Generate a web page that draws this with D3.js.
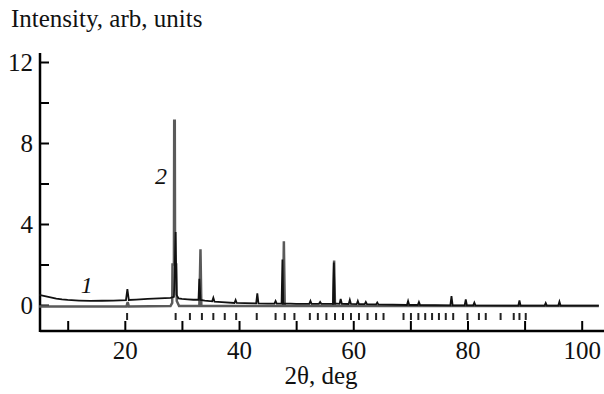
<!DOCTYPE html>
<html>
<head>
<meta charset="utf-8">
<script src="https://cdn.jsdelivr.net/npm/d3@7"></script>
<style>
  body { margin: 0; background: #fff; }
  svg text { font-family: "Liberation Serif", "DejaVu Serif", serif; fill: #111; }
</style>
</head>
<body>
<svg id="chart" width="604" height="394"></svg>
<script>
// Pattern 1 (black, raised background), [2theta, intensity]
const pattern1 = [
  [5, 0.5], [6, 0.44], [7, 0.38], [8, 0.32], [9, 0.28], [10, 0.25], [12, 0.22], [14, 0.2],
  [16, 0.21], [18, 0.22], [20.2, 0.24], [20.45, 0.78], [20.7, 0.25], [22, 0.27], [24, 0.3],
  [26, 0.33], [28, 0.35], [28.6, 0.4], [28.9, 3.6], [29.05, 0.5], [29.4, 0.33], [30, 0.3],
  [31, 0.28], [32, 0.26], [32.9, 0.26], [33.05, 1.3], [33.25, 0.25], [34, 0.22], [35.3, 0.18],
  [35.5, 0.36], [35.7, 0.17], [37, 0.14], [39.2, 0.1], [39.4, 0.25], [39.6, 0.1], [41, 0.09],
  [43, 0.08], [43.2, 0.58], [43.4, 0.08], [45, 0.07], [46.2, 0.07], [46.4, 0.2], [46.6, 0.07],
  [47.45, 0.07], [47.6, 2.25], [47.75, 0.08], [49, 0.07], [50, 0.06], [52.3, 0.06], [52.5, 0.2],
  [52.7, 0.06], [54, 0.06], [54.2, 0.15], [54.4, 0.06], [56.45, 0.06], [56.6, 2.1], [56.75, 0.08],
  [57.6, 0.06], [57.8, 0.3], [58, 0.06], [59.2, 0.05], [59.4, 0.25], [59.6, 0.05], [60.6, 0.04],
  [60.8, 0.2], [61, 0.04], [62, 0.04], [62.2, 0.15], [62.4, 0.04], [64, 0.03], [64.2, 0.12],
  [64.4, 0.03], [69.4, 0.0], [69.6, 0.2], [69.8, 0.0], [71.3, 0.0], [71.5, 0.15], [71.7, 0.0],
  [77.0, -0.02], [77.2, 0.44], [77.4, -0.02], [79.5, -0.02], [79.7, 0.28], [79.9, -0.02],
  [81, -0.02], [81.2, 0.12], [81.4, -0.02], [88.9, -0.03], [89.1, 0.22], [89.3, -0.03],
  [93.5, -0.03], [93.7, 0.1], [93.9, -0.03], [95.9, -0.03], [96.1, 0.16], [96.3, -0.03],
  [103, -0.03]
];

// Pattern 2 (grey, sharp peaks)
const pattern2 = [
  [5, -0.07], [20.3, -0.07], [20.5, 0.15], [20.7, -0.07], [28.0, -0.05], [28.3, 0.1],
  [28.35, 2.0], [28.6, 2.0], [28.65, 9.1], [28.75, 9.1], [28.8, 2.0], [29.0, 2.0], [29.1, 0.2],
  [29.5, -0.05], [33.05, -0.05], [33.25, 2.75], [33.4, -0.05], [47.7, -0.05], [47.85, 3.15],
  [48.0, -0.05], [56.5, -0.05], [56.65, 2.2], [56.8, -0.05], [103, -0.05]
];

// Reference reflection positions (bar marks under the patterns)
const reflections = [
  20.4, 28.9, 31.4, 33.5, 35.5, 37.5, 39.5, 43.1, 46.4, 48.0, 49.7, 52.4, 53.8, 55.3, 56.8,
  58.2, 59.6, 61.0, 62.5, 64.0, 65.3, 68.8, 70.1, 71.4, 72.6, 73.8, 75.0, 76.2, 77.5, 80.0,
  82.0, 83.2, 85.8, 88.1, 89.1, 90.2
];

const xTicks = [10, 20, 30, 40, 50, 60, 70, 80, 90, 100];
const yTicks = [0, 2, 4, 6, 8, 10, 12];
const curveLabels = [
  { text: "1", x: 12.3, y: 0.6 },
  { text: "2", x: 25.3, y: 6.0 }
];

const svg = d3.select("#chart");

const x = d3.scaleLinear().domain([10, 100]).range([67.7, 581.7]);
const y = d3.scaleLinear().domain([0, 12]).range([305, 62]);

const axisX0 = 40, axisY0 = 331;

// x axis
const xAxis = d3.axisBottom(x)
  .tickValues(xTicks)
  .tickSizeInner(-10)
  .tickSizeOuter(0)
  .tickPadding(10)
  .tickFormat(d => d % 20 === 0 ? d : "");
const gx = svg.append("g").attr("transform", `translate(0,${axisY0})`).call(xAxis);
gx.select(".domain").remove();
gx.selectAll("line").attr("stroke", "#000").attr("stroke-width", 2);
gx.selectAll("text").attr("font-size", 25).attr("fill", "#111")
  .style("font-family", "'Liberation Serif', serif");

// y axis
const yAxis = d3.axisLeft(y)
  .tickValues(yTicks)
  .tickSizeInner(-9)
  .tickSizeOuter(0)
  .tickPadding(7)
  .tickFormat(d => d % 4 === 0 ? d : "");
const gy = svg.append("g").attr("transform", `translate(${axisX0},0)`).call(yAxis);
gy.select(".domain").remove();
gy.selectAll("line").attr("stroke", "#000").attr("stroke-width", 2);
gy.selectAll("text").attr("font-size", 25).attr("fill", "#111")
  .style("font-family", "'Liberation Serif', serif");

// axis lines
svg.append("line").attr("x1", axisX0).attr("x2", 604).attr("y1", axisY0).attr("y2", axisY0)
  .attr("stroke", "#000").attr("stroke-width", 2.5);
svg.append("line").attr("x1", axisX0).attr("x2", axisX0).attr("y1", 53).attr("y2", axisY0 + 1)
  .attr("stroke", "#000").attr("stroke-width", 2.5);

// reflection bars
svg.append("g").selectAll("line")
  .data(reflections)
  .enter()
  .append("line")
  .attr("x1", d => x(d)).attr("x2", d => x(d))
  .attr("y1", y(0) + 8).attr("y2", y(0) + 15)
  .attr("stroke", "#222").attr("stroke-width", 2);

const line = d3.line().x(d => x(d[0])).y(d => y(d[1]));

svg.append("path").datum(pattern2)
  .attr("d", line).attr("fill", "none")
  .attr("stroke", "#5a5a5a").attr("stroke-width", 2.5).attr("stroke-linejoin", "miter");

svg.append("path").datum(pattern1)
  .attr("d", line).attr("fill", "none")
  .attr("stroke", "#111").attr("stroke-width", 1.8);

// curve labels
svg.selectAll(".clabel")
  .data(curveLabels)
  .enter()
  .append("text")
  .attr("class", "clabel")
  .attr("x", d => x(d.x)).attr("y", d => y(d.y))
  .attr("font-size", 24).attr("font-style", "italic")
  .text(d => d.text);

// titles
svg.append("text").attr("x", 11).attr("y", 27).attr("font-size", 25)
  .text("Intensity, arb, units");
svg.append("text").attr("x", 321).attr("y", 384).attr("font-size", 25)
  .attr("text-anchor", "middle").text("2θ, deg");
</script>
</body>
</html>
